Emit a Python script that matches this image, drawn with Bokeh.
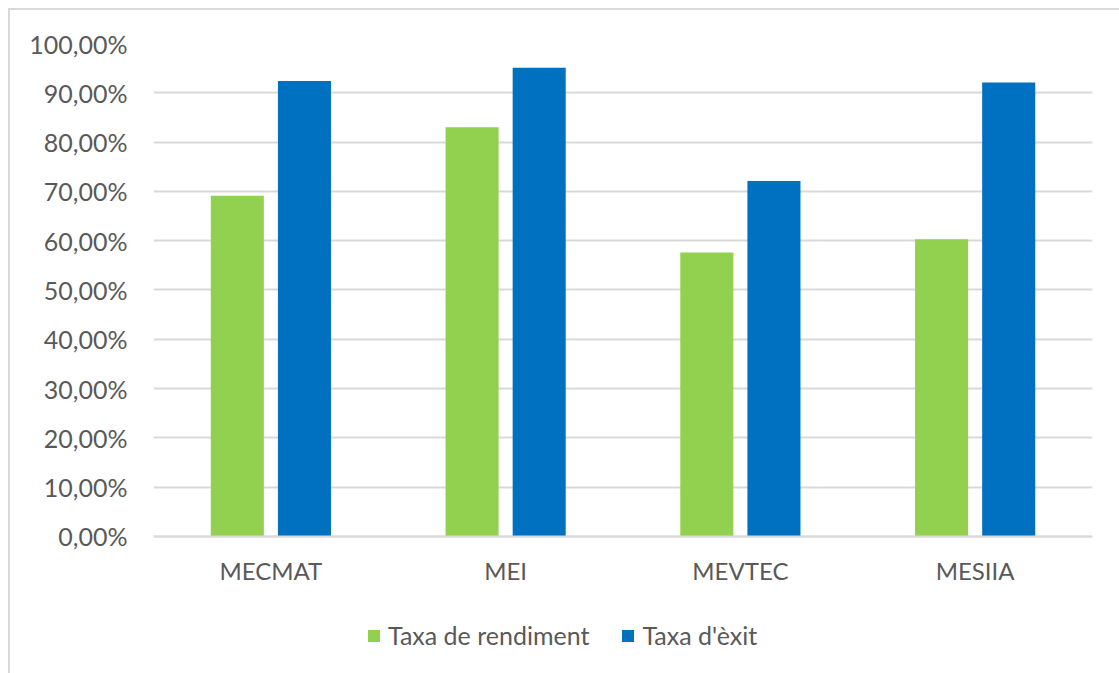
from bokeh.plotting import figure
from bokeh.models import FactorRange, Range1d, FixedTicker, Legend, LegendItem, ColumnDataSource
from bokeh.transform import dodge
from bokeh.embed import file_html
from bokeh.resources import INLINE

categories = ["MECMAT", "MEI", "MEVTEC", "MESIIA"]
taxa_rendiment = [69.1, 83.0, 57.6, 60.3]
taxa_exit = [92.4, 95.1, 72.1, 92.1]
tick_values = [0, 10, 20, 30, 40, 50, 60, 70, 80, 90, 100]
tick_labels = ["0,00%", "10,00%", "20,00%", "30,00%", "40,00%", "50,00%",
               "60,00%", "70,00%", "80,00%", "90,00%", "100,00%"]
series_names = ["Taxa de rendiment", "Taxa d'èxit"]
colors = ["#92D050", "#0070C0"]

FONT = "Lato"
TXT = "#595959"
GRID = "#D9D9D9"

src = ColumnDataSource(dict(cat=categories, r=taxa_rendiment, e=taxa_exit))

# frame extends below the 0% line so that the legend can sit inside it
p = figure(frame_width=939, frame_height=630, output_backend="svg", toolbar_location=None,
           x_range=FactorRange(*categories, range_padding=0),
           y_range=Range1d(-27.79, 100),
           min_border_left=143, min_border_right=27, min_border_top=33, min_border_bottom=0)
p.margin = (8, 0, 0, 8)
p.styles = {"border-left": "2px solid #D9D9D9", "border-top": "2px solid #D9D9D9"}
p.outline_line_color = None
p.background_fill_color = "white"
p.border_fill_color = "white"

r1 = p.vbar(x=dodge("cat", -0.143, range=p.x_range), top="r", width=0.226, source=src,
            fill_color=colors[0], line_color=None)
r2 = p.vbar(x=dodge("cat", 0.143, range=p.x_range), top="e", width=0.226, source=src,
            fill_color=colors[1], line_color=None)

p.xgrid.grid_line_color = None
p.ygrid.grid_line_color = GRID
p.ygrid.grid_line_width = 2
p.ygrid.ticker = FixedTicker(ticks=tick_values)

p.yaxis.ticker = FixedTicker(ticks=tick_values)
p.yaxis.major_label_overrides = {v: l for v, l in zip(tick_values, tick_labels)}
p.yaxis.axis_line_color = None
p.yaxis.major_tick_line_color = None
p.yaxis.minor_tick_line_color = None
p.yaxis.major_tick_out = 0
p.yaxis.major_label_standoff = 26
p.yaxis.major_label_text_font = FONT
p.yaxis.major_label_text_font_size = "25px"
p.yaxis.major_label_text_color = TXT

p.xaxis.fixed_location = 0
p.xaxis.axis_line_color = GRID
p.xaxis.axis_line_width = 2
p.xaxis.major_tick_line_color = None
p.xaxis.major_tick_out = 0
p.xaxis.major_label_standoff = 20
p.xaxis.major_label_text_font = FONT
p.xaxis.major_label_text_font_size = "24px"
p.xaxis.major_label_text_color = TXT

legend = Legend(items=[LegendItem(label=series_names[0], renderers=[r1]),
                       LegendItem(label=series_names[1], renderers=[r2])],
                orientation="horizontal", location=(213, 23))
legend.label_text_font = FONT
legend.label_text_font_size = "25px"
legend.label_text_color = TXT
legend.glyph_width = 15
legend.glyph_height = 15
legend.label_standoff = 7
legend.spacing = 31
legend.padding = 0
legend.margin = 0
legend.border_line_color = None
legend.background_fill_color = None
p.add_layout(legend, "center")

open("out.html", "w").write(file_html(p, INLINE))
